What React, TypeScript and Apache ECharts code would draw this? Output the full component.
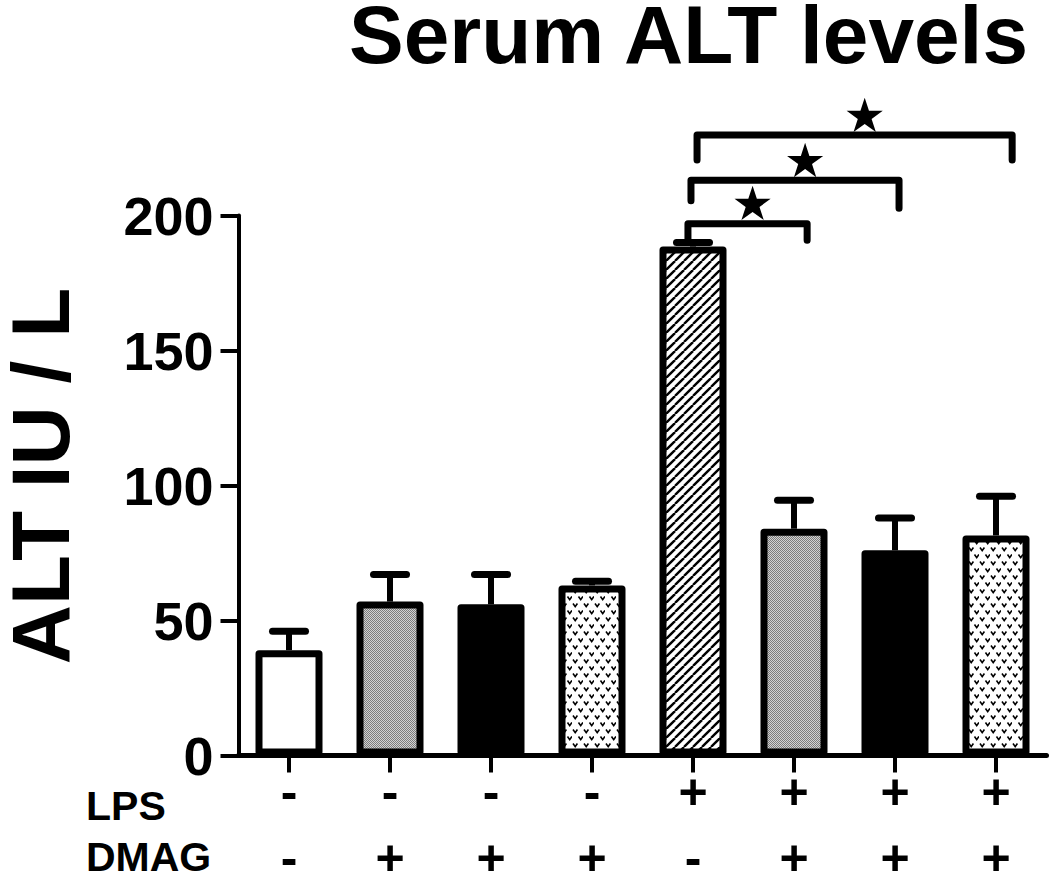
import React, { useEffect, useRef } from "react";
import * as echarts from "echarts";

const categories = [
  "Control",
  "DMAG A",
  "DMAG B",
  "DMAG C",
  "LPS",
  "LPS + DMAG A",
  "LPS + DMAG B",
  "LPS + DMAG C",
];
const lpsSigns = ["-", "-", "-", "-", "+", "+", "+", "+"];
const dmagSigns = ["-", "+", "+", "+", "-", "+", "+", "+"];
const altMeans = [39, 57, 56, 63, 188.5, 84, 76, 81.5];
const altErrors = [7, 10, 11, 1.5, 1.5, 10.5, 12, 14.5];
const yMin = 0;
const yMax = 200;
const yStep = 50;

// significance brackets (category-index units for x, ALT units for y)
const bracketFrom = [3.95, 3.98, 4.04];
const bracketTo = [5.13, 6.04, 7.16];
const bracketLevel = [196.9, 213.1, 229.8];
const bracketDropLeft = [191.3, 205.5, 220.6];
const bracketDropRight = [190.8, 202.7, 220.6];
const starX = [4.59, 5.11, 5.7];
const starY = [204.0, 219.9, 236.6];

const FONT = '"Liberation Sans", Arial, sans-serif';

function makeTile(w: number, h: number, draw: (ctx: CanvasRenderingContext2D) => void) {
  const c = document.createElement("canvas");
  c.width = w;
  c.height = h;
  const ctx = c.getContext("2d") as CanvasRenderingContext2D;
  ctx.fillStyle = "#ffffff";
  ctx.fillRect(0, 0, w, h);
  draw(ctx);
  return c;
}

export default function App() {
  const ref = useRef<HTMLDivElement>(null);

  useEffect(() => {
    if (!ref.current) return;
    const chart = echarts.init(ref.current, undefined, { renderer: "svg" });

    const hatch = makeTile(9, 9, (ctx) => {
      ctx.strokeStyle = "#000";
      ctx.lineWidth = 2.4;
      for (const k of [-9, 0, 9]) {
        ctx.beginPath();
        ctx.moveTo(k, 9);
        ctx.lineTo(k + 9, 0);
        ctx.stroke();
      }
    });
    const dots = makeTile(11, 14, (ctx) => {
      ctx.strokeStyle = "#000";
      ctx.lineWidth = 1.6;
      for (const [x, y] of [
        [1, 1.5],
        [6.5, 8.5],
      ]) {
        ctx.beginPath();
        ctx.moveTo(x, y);
        ctx.lineTo(x + 2.2, y + 3.2);
        ctx.lineTo(x + 4.4, y);
        ctx.stroke();
      }
    });
    const stipple = makeTile(2, 2, (ctx) => {
      ctx.fillStyle = "#7c7c7c";
      ctx.fillRect(0, 0, 1, 1);
      ctx.fillRect(1, 1, 1, 1);
      ctx.fillStyle = "#d2d2d2";
      ctx.fillRect(1, 0, 1, 1);
      ctx.fillRect(0, 1, 1, 1);
    });
    const pat = (c: HTMLCanvasElement) => ({
      image: c,
      repeat: "repeat",
      imageWidth: c.width,
      imageHeight: c.height,
    });
    const fills: any[] = [
      "#ffffff",
      pat(stipple),
      "#000000",
      pat(dots),
      pat(hatch),
      pat(stipple),
      "#000000",
      pat(dots),
    ];

    const starPoints = (cx: number, cy: number, R: number) => {
      const r = R * 0.382;
      const pts: number[][] = [];
      for (let k = 0; k < 10; k++) {
        const a = -Math.PI / 2 + (k * Math.PI) / 5;
        const rad = k % 2 === 0 ? R : r;
        pts.push([cx + rad * Math.cos(a), cy + rad * Math.sin(a)]);
      }
      return pts;
    };

    const labelText = (text: string, x: number, y: number, size: number, align: string, rotation = 0) => ({
      type: "text",
      x,
      y,
      rotation,
      style: {
        text,
        fill: "#000",
        fontSize: size,
        fontWeight: "bold",
        fontFamily: FONT,
        textAlign: align,
        align,
        textVerticalAlign: "middle",
        verticalAlign: "middle",
      },
    });

    const option: any = {
      animation: false,
      backgroundColor: "#ffffff",
      grid: {
        left: 238.5,
        right: 3.5,
        top: 215.5,
        bottom: 119.5,
        containLabel: false,
        outerBoundsMode: "none",
      },
      xAxis: {
        type: "category",
        data: categories,
        axisLine: { show: true, lineStyle: { color: "#000", width: 5 } },
        axisTick: { show: true, alignWithLabel: true, length: 17, lineStyle: { color: "#000", width: 4 } },
        axisLabel: {
          interval: 0,
          margin: 3,
          formatter: (_v: string, i: number) => `{s|${lpsSigns[i]}}\n{s|${dmagSigns[i]}}`,
          rich: {
            s: {
              fontSize: 50,
              fontWeight: "bold",
              fontFamily: FONT,
              color: "#000",
              lineHeight: 66,
            },
          },
        },
        splitLine: { show: false },
      },
      yAxis: {
        type: "value",
        min: yMin,
        max: yMax,
        interval: yStep,
        axisLine: { show: true, lineStyle: { color: "#000", width: 4 } },
        axisTick: { show: true, length: 18, lineStyle: { color: "#000", width: 4 } },
        axisLabel: {
          margin: 25,
          fontSize: 54,
          fontWeight: "bold",
          fontFamily: FONT,
          color: "#000",
        },
        splitLine: { show: false },
      },
      graphic: [
        labelText("Serum ALT levels", 1028, 34, 82, "right"),
        labelText("ALT IU / L", 40, 476, 82, "center", Math.PI / 2),
        labelText("LPS", 86, 806, 41, "left"),
        labelText("DMAG", 86, 857, 41, "left"),
      ],
      series: [
        {
          type: "custom",
          name: "error",
          z: 1,
          clip: false,
          encode: { x: 0, y: 1 },
          data: altMeans.map((m, i) => [i, m, altErrors[i]]),
          renderItem: (_p: any, api: any) => {
            const base = api.coord([api.value(0), api.value(1)]);
            const top = api.coord([api.value(0), api.value(1) + api.value(2)]);
            return {
              type: "group",
              children: [
                {
                  type: "line",
                  shape: { x1: base[0], y1: base[1], x2: base[0], y2: top[1] },
                  style: { stroke: "#000", lineWidth: 6 },
                },
                {
                  type: "line",
                  shape: { x1: base[0] - 16.5, y1: top[1], x2: base[0] + 16.5, y2: top[1] },
                  style: { stroke: "#000", lineWidth: 7, lineCap: "round" },
                },
              ],
            };
          },
        },
        {
          type: "bar",
          name: "ALT",
          z: 2,
          barWidth: 67,
          itemStyle: { borderColor: "#000", borderWidth: 7, borderJoin: "round" },
          data: altMeans.map((v, i) => ({ value: v, itemStyle: { color: fills[i] } })),
        },
        {
          type: "custom",
          name: "significance",
          z: 3,
          clip: false,
          encode: { x: 0, y: 1 },
          data: bracketLevel.map((lv, i) => [
            4,
            lv,
            bracketFrom[i],
            bracketTo[i],
            bracketDropLeft[i],
            bracketDropRight[i],
            starX[i],
            starY[i],
          ]),
          renderItem: (_p: any, api: any) => {
            const p0 = api.coord([0, 0]);
            const p1 = api.coord([1, 0]);
            const step = p1[0] - p0[0];
            const X = (v: number) => p0[0] + v * step;
            const Y = (v: number) => api.coord([0, v])[1];
            const x1 = X(api.value(2));
            const x2 = X(api.value(3));
            const y = Y(api.value(1));
            const yl = Y(api.value(4));
            const yr = Y(api.value(5));
            const sx = X(api.value(6));
            const sy = Y(api.value(7));
            return {
              type: "group",
              children: [
                {
                  type: "polyline",
                  shape: { points: [[x1, yl], [x1, y], [x2, y], [x2, yr]] },
                  style: { stroke: "#000", lineWidth: 7, fill: "none", lineCap: "round", lineJoin: "round" },
                },
                {
                  type: "polygon",
                  shape: { points: starPoints(sx, sy, 19) },
                  style: { fill: "#000", stroke: "none" },
                },
              ],
            };
          },
        },
      ],
    };

    chart.setOption(option);
    return () => chart.dispose();
  }, []);

  return (
    <div
      ref={ref}
      style={{ position: "fixed", left: 0, top: 0, width: 1050, height: 875, background: "#fff" }}
    />
  );
}
